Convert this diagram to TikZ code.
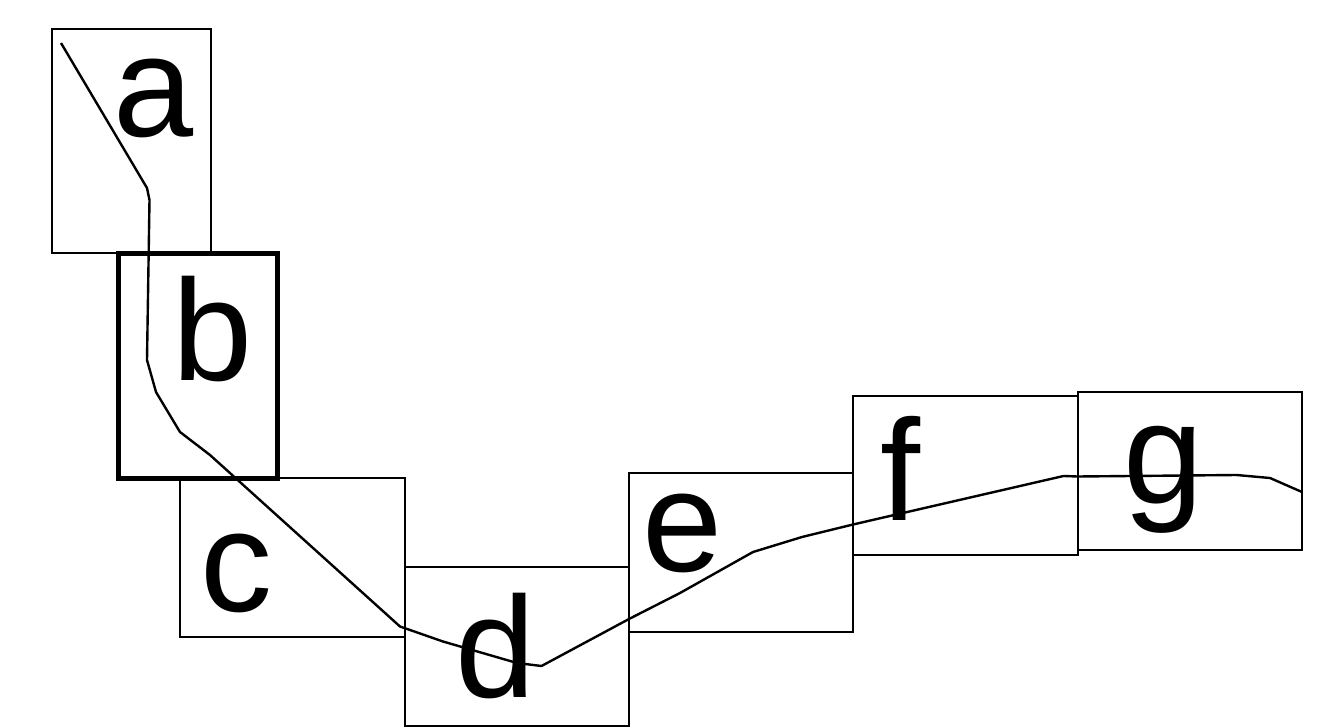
\documentclass[tikz,border=0pt]{standalone}
\usepackage{fontspec}
\setmainfont{Liberation Sans}
\usepackage{tikz}

\begin{document}
\begin{tikzpicture}[x=0.5pt,y=-0.5pt,
  box/.style={draw,rectangle,line width=1pt,inner sep=0pt,outer sep=0pt},
  boldbox/.style={box,line width=2.2pt},
  letter/.style={anchor=base,inner sep=0pt,font=\fontsize{72}{72}\selectfont}]
\useasboundingbox (0,0) rectangle (1340,728);
% boxes
\node[box,minimum width=79.5pt,minimum height=112pt] (boxa) at (131.5,141) {};
\node[box,minimum width=112.5pt,minimum height=79.5pt] (boxc) at (292.5,557.5) {};
\node[box,minimum width=112pt,minimum height=79.5pt] (boxd) at (517,646.5) {};
\node[box,minimum width=112pt,minimum height=79.5pt] (boxe) at (741,552.5) {};
\node[box,minimum width=112.5pt,minimum height=79.5pt] (boxf) at (965.5,475.5) {};
\node[box,minimum width=112pt,minimum height=79pt] (boxg) at (1190,471) {};
\node[boldbox,minimum width=79.5pt,minimum height=112.5pt] (boxb) at (198,366) {};
% letters
\node[letter] (la) at (154,136) {a};
\node[letter] (lb) at (213,380) {b};
\node[letter] (lc) at (236,611) {c};
\node[letter] (ld) at (495.5,697) {d};
\node[letter] (le) at (682.5,571) {e};
\node[letter] (lf) at (900,520) {f};
\node[letter] (lg) at (1164,503) {g};
% path through the boxes
\draw[line width=1.2pt,line join=round]
  (61,43) -- (147,188) -- (149.5,200) -- (147,360) -- (156,392) -- (180,432)
  -- (210,455) -- (400,626.5) -- (443,641.5) -- (517,663) -- (541.5,666)
  -- (629,619) -- (680,593) -- (753,552) -- (802,537) -- (853,524.5)
  -- (1063.5,476) -- (1077.5,476.5) -- (1236.5,475) -- (1270,478) -- (1302,492);
\end{tikzpicture}
\end{document}
